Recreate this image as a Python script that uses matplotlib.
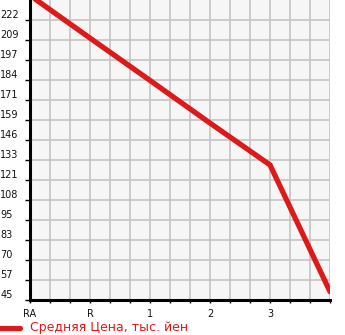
import matplotlib
matplotlib.use("Agg")
import matplotlib.pyplot as plt
import numpy as np

x_labels = ["RA", "R", "1", "2", "3"]
x_pos = [0, 1, 2, 3, 4, 5]
prices = [237.8, 210.8, 184.0, 157.0, 130.5, 50.3]
y_ticks = [45, 57.66, 70.32, 82.98, 95.64, 108.3, 120.96, 133.62, 146.28,
           158.94, 171.6, 184.26, 196.92, 209.58, 222.24]
y_tick_labels = ["45", "57", "70", "83", "95", "108", "121", "133", "146",
                 "159", "171", "184", "197", "209", "222"]
legend_label = "Средняя Цена, тыс. йен"

W, H = 345, 335
fig = plt.figure(figsize=(W / 100, H / 100), dpi=100)
ax = fig.add_axes([30 / W, 35 / H, 300 / W, 300 / H])
ax.set_facecolor("#f6f6f6")

ax.set_xlim(0, 5)
ax.set_ylim(45, 45 + 15 * 12.66)

ax.set_xticks(x_pos[:5])
ax.set_xticklabels(x_labels)
ax.set_xticks(np.arange(0, 5.001, 1 / 3), minor=True)
ax.set_yticks(y_ticks)
ax.set_yticklabels(y_tick_labels)

ax.grid(True, which="both", color="#c4c4c4", linewidth=1.2)
ax.set_axisbelow(True)

for s in ["top", "right"]:
    ax.spines[s].set_visible(False)
for s in ["left", "bottom"]:
    ax.spines[s].set_linewidth(2.2)
    ax.spines[s].set_color("black")

ax.tick_params(axis="y", length=3.5, width=1, direction="out", pad=18,
               labelsize=7, labelcolor="#111111")
for lab in ax.get_yticklabels():
    lab.set_horizontalalignment("left")
    lab.set_verticalalignment("bottom")
ax.tick_params(axis="x", which="both", length=2.5, width=1, direction="out",
               pad=4, labelsize=7, labelcolor="#111111")

line, = ax.plot(x_pos, prices, color="#dd1a1a", linewidth=3.8,
                solid_capstyle="round", solid_joinstyle="miter", clip_on=True)

fig.add_artist(plt.Line2D([0, 20 / W], [1 - 328 / H, 1 - 328 / H],
                          color="#dd1a1a", linewidth=3.8,
                          solid_capstyle="round"))
fig.text(30 / W, 1 - 328 / H, legend_label, color="#dd1a1a", fontsize=9,
         va="center", ha="left")

fig.savefig("out.png", dpi=100)
